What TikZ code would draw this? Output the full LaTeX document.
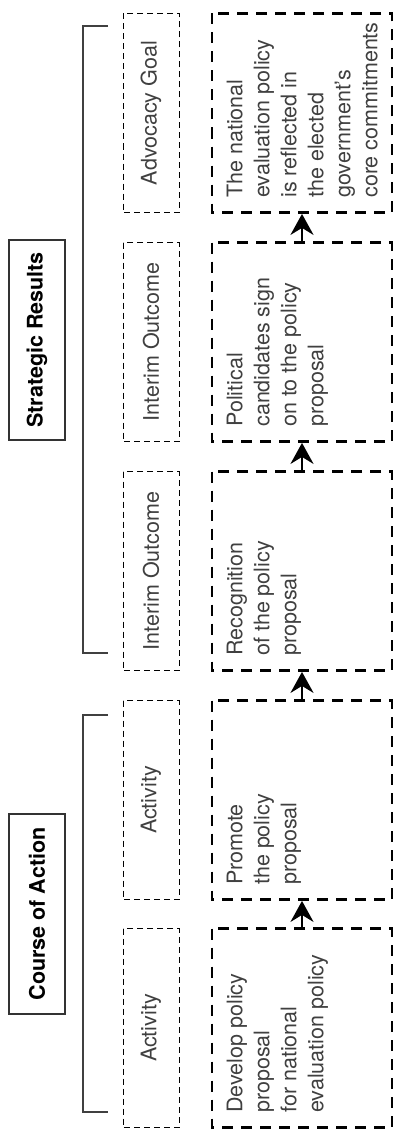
\documentclass[tikz,border=0pt]{standalone}
\usepackage{fontspec}
\setmainfont{TeX Gyre Heros}
\usetikzlibrary{arrows.meta}

\tikzset{
  titlebox/.style={draw=black!80, line width=1.2pt, rotate=90, minimum width=200pt, minimum height=56pt,
    inner sep=0pt, font=\fontsize{21.5}{26}\selectfont\bfseries},
  bracket/.style={draw=black!75, line width=1.2pt},
  labelbox/.style={draw, dash pattern=on 6pt off 4pt, line width=1pt, rotate=90, minimum width=199pt,
    minimum height=56pt, inner sep=0pt, text=black!75, font=\fontsize{21.5}{26}\selectfont},
  resultbox/.style={draw, dash pattern=on 11pt off 8pt, line width=2.8pt, rotate=90, minimum width=199pt,
    minimum height=180pt, inner sep=0pt},
  boxtext/.style={rotate=90, anchor=north west, align=left, inner sep=0pt, text=black!75,
    font=\fontsize{21.5}{27}\selectfont},
  flow/.style={-{Stealth[length=21pt, width=23pt, inset=7pt]}, line width=2.5pt},
}

\begin{document}
\begin{tikzpicture}[x=1pt, y=-1pt]
    \useasboundingbox (0,0) rectangle (393,1129);

    % headings
    \node[titlebox] (course) at (37,914) {Course of Action};
    \node[titlebox] (strategic) at (37,340) {Strategic Results};
    \draw[bracket] (108,715) -- (83,715) -- (83,1112) -- (108,1112);
    \draw[bracket] (108,26) -- (83,26) -- (83,653) -- (108,653);

    % labels
    \node[labelbox] (act1) at (151,1028) {Activity};
    \node[labelbox] (act2) at (151,800) {Activity};
    \node[labelbox] (interim1) at (151,571) {Interim Outcome};
    \node[labelbox] (interim2) at (151,342) {Interim Outcome};
    \node[labelbox] (goal) at (151,113) {Advocacy Goal};

    % steps
    \node[resultbox] (develop) at (302,1028) {};
    \node[resultbox] (promote) at (302,800) {};
    \node[resultbox] (recognition) at (302,571) {};
    \node[resultbox] (candidates) at (302,342) {};
    \node[resultbox] (commitments) at (302,113) {};

    \node[boxtext] at ([shift={(16,-16)}]develop.north west) {Develop policy\\proposal\\for national\\evaluation policy};
    \node[boxtext] at ([shift={(16,-16)}]promote.north west) {Promote\\the policy\\proposal};
    \node[boxtext] at ([shift={(16,-16)}]recognition.north west) {Recognition\\of the policy\\proposal};
    \node[boxtext] at ([shift={(16,-16)}]candidates.north west) {Political\\candidates sign\\on to the policy\\proposal};
    \node[boxtext] at ([shift={(16,-16)}]commitments.north west) {The national\\evaluation policy\\is reflected in\\the elected\\government’s\\core commitments};

    \draw[flow] (develop.east) -- (promote.west);
    \draw[flow] (promote.east) -- (recognition.west);
    \draw[flow] (recognition.east) -- (candidates.west);
    \draw[flow] (candidates.east) -- (commitments.west);
\end{tikzpicture}
\end{document}
